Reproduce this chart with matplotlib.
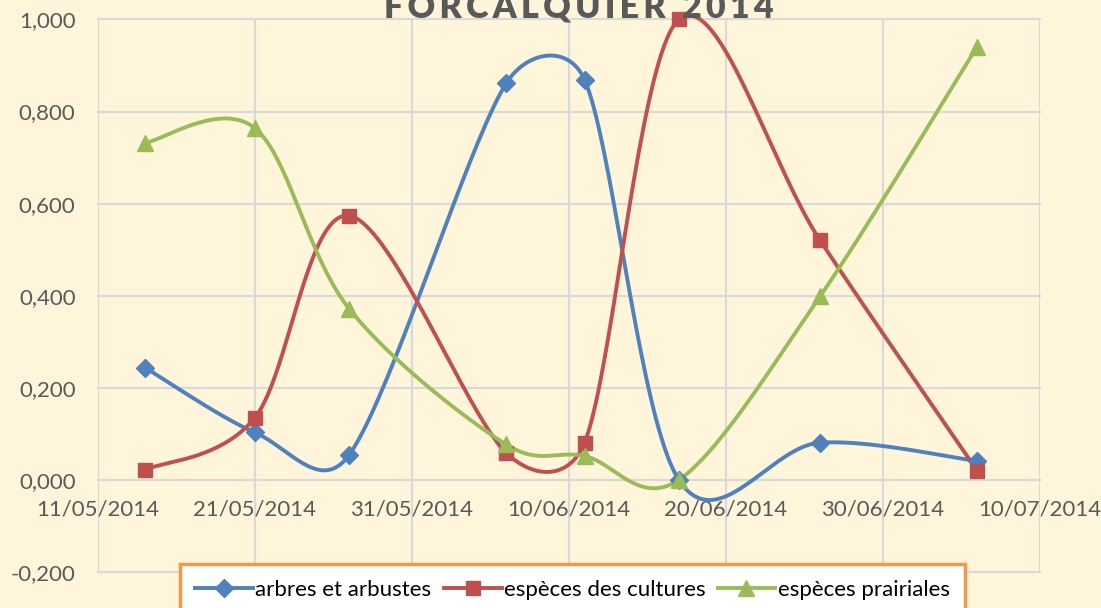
import numpy as np
import matplotlib
matplotlib.use('Agg')
import matplotlib.pyplot as plt
import matplotlib.dates as mdates
from matplotlib.lines import Line2D
from matplotlib.ticker import FuncFormatter

# data
dates = ['2014-05-14', '2014-05-21', '2014-05-27', '2014-06-06',
         '2014-06-11', '2014-06-17', '2014-06-26', '2014-07-06']
arbres = [0.244, 0.103, 0.054, 0.861, 0.869, 0.000, 0.081, 0.041]
cultures = [0.022, 0.135, 0.574, 0.059, 0.081, 1.000, 0.520, 0.020]
prairiales = [0.732, 0.764, 0.372, 0.077, 0.052, 0.000, 0.399, 0.941]
series_names = ['arbres et arbustes', 'espèces des cultures', 'espèces prairiales']
x_ticks = ['2014-05-11', '2014-05-21', '2014-05-31', '2014-06-10',
           '2014-06-20', '2014-06-30', '2014-07-10']
y_ticks = [-0.2, 0.0, 0.2, 0.4, 0.6, 0.8, 1.0]
title = 'FORCALQUIER 2014'

colors = ['#4F81BD', '#C0504D', '#9BBB59']
markers = ['D', 's', '^']
msizes = [9, 10, 11]
bg = '#FEF5DB'
grid_c = '#D9D9D9'
font = 'Lato'


def excel_smooth(ax, xs, ys, n=40):
    """Excel-style smoothed line (bezier segments computed in screen space)"""
    P = ax.transData.transform(np.column_stack([xs, ys]))
    out = []
    for i in range(len(P) - 1):
        p0 = P[i - 1] if i > 0 else P[i]
        p1, p2 = P[i], P[i + 1]
        p3 = P[i + 2] if i + 2 < len(P) else P[i + 1]
        d12 = np.linalg.norm(p2 - p1)
        d02 = np.linalg.norm(p2 - p0)
        d13 = np.linalg.norm(p3 - p1)
        f1 = 1 / 6 if d02 / 6 < d12 / 2 else d12 / (2 * d02)
        f2 = 1 / 6 if d13 / 6 < d12 / 2 else d12 / (2 * d13)
        c1 = p1 + (p2 - p0) * f1
        c2 = p2 - (p3 - p1) * f2
        t = np.linspace(0, 1, n)[:, None]
        seg = ((1 - t) ** 3) * p1 + 3 * ((1 - t) ** 2) * t * c1 + 3 * (1 - t) * t ** 2 * c2 + t ** 3 * p2
        out.append(seg if i == 0 else seg[1:])
    pts = ax.transData.inverted().transform(np.vstack(out))
    return pts[:, 0], pts[:, 1]


fig = plt.figure(figsize=(11.01, 6.08), dpi=100, facecolor=bg)
ax = fig.add_axes([97.8 / 1101, 1 - 572 / 608, (1040 - 97.8) / 1101, (572 - 19.5) / 608])
ax.set_facecolor(bg)

xd = mdates.datestr2num(dates)
xt = mdates.datestr2num(x_ticks)
ax.set_xlim(xt[0], xt[-1])
ax.set_ylim(-0.2, 1.0)
ax.set_xticks(xt)
ax.set_yticks(y_ticks)
ax.xaxis.set_major_formatter(mdates.DateFormatter('%d/%m/%Y'))
ax.yaxis.set_major_formatter(FuncFormatter(lambda v, p: f'{v:.3f}'.replace('.', ',')))

ax.grid(True, color=grid_c, lw=1.5)
ax.set_axisbelow(True)
for gl in ax.xaxis.get_gridlines() + ax.yaxis.get_gridlines():
    gl.set_clip_on(False)
for s in ['left', 'right', 'top']:
    ax.spines[s].set_visible(False)
ax.spines['bottom'].set_position(('data', 0))
ax.spines['bottom'].set_color(grid_c)
ax.spines['bottom'].set_linewidth(1.5)
ax.tick_params(length=0, labelsize=16, labelcolor='#595959')
ax.tick_params(axis='x', pad=14)
ax.tick_params(axis='y', pad=16)
for lab in ax.get_xticklabels() + ax.get_yticklabels():
    lab.set_fontfamily(font)

handles = []
for ys, c, m, ms, name in zip([arbres, cultures, prairiales], colors, markers, msizes, series_names):
    sx, sy = excel_smooth(ax, xd, ys)
    ax.plot(sx, sy, color=c, lw=2.8, clip_on=False, zorder=3, solid_capstyle='round')
    ax.plot(xd, ys, ls='none', marker=m, ms=ms, color=c, clip_on=False, zorder=4)
    handles.append(Line2D([], [], color=c, lw=2.8, marker=m, ms=ms, label=name))

# title is partly cut by the top edge, as in the original
fig.text(579 / 1101, 1 - 17 / 608, '\u2009'.join(title), ha='center', va='baseline',
         fontsize=24.5, fontweight='heavy', color='#595959', family=[font, 'DejaVu Sans'])

leg = fig.legend(handles=handles, loc='upper center', bbox_to_anchor=(572.5 / 1101, 1 - 553 / 608),
                 ncol=3, frameon=True, fancybox=False, edgecolor='#F79646', facecolor='white',
                 framealpha=1, handlelength=2.6, columnspacing=0.55, handletextpad=0.1,
                 borderpad=0.7, borderaxespad=0.5, numpoints=1, prop={'family': font, 'size': 16})
leg.get_frame().set_linewidth(2.5)

fig.savefig('out.png', dpi=100, facecolor=bg)
